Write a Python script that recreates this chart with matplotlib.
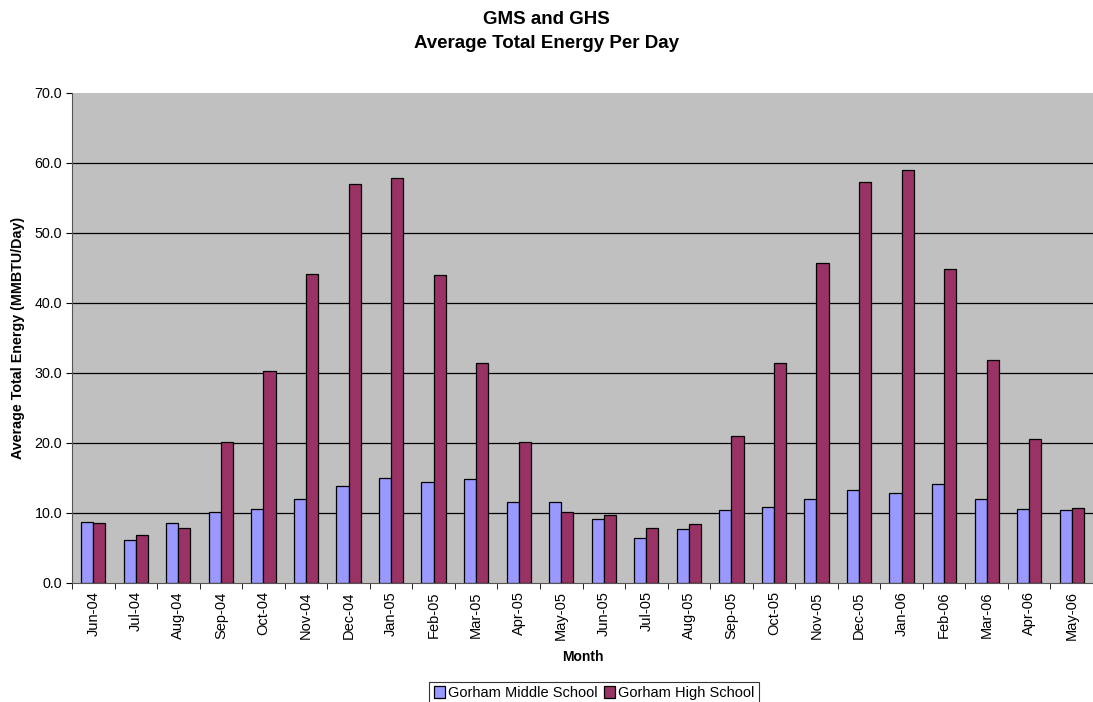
import matplotlib
matplotlib.use("Agg")
import matplotlib.pyplot as plt
import numpy as np

plt.rcParams['font.family'] = ['Liberation Sans', 'DejaVu Sans']

months = ["Jun-04", "Jul-04", "Aug-04", "Sep-04", "Oct-04", "Nov-04", "Dec-04",
          "Jan-05", "Feb-05", "Mar-05", "Apr-05", "May-05", "Jun-05", "Jul-05",
          "Aug-05", "Sep-05", "Oct-05", "Nov-05", "Dec-05", "Jan-06", "Feb-06",
          "Mar-06", "Apr-06", "May-06"]
middle_school = [8.7, 6.2, 8.6, 10.2, 10.6, 12.0, 13.9, 15.0, 14.4, 14.9, 11.6, 11.6,
                 9.1, 6.5, 7.7, 10.4, 10.8, 12.0, 13.3, 12.8, 14.1, 12.0, 10.6, 10.5]
high_school = [8.6, 6.9, 7.8, 20.2, 30.3, 44.2, 57.0, 57.8, 44.0, 31.4, 20.2, 10.2,
               9.7, 7.8, 8.5, 21.0, 31.5, 45.7, 57.3, 59.0, 44.8, 31.9, 20.6, 10.7]
series_names = ["Gorham Middle School", "Gorham High School"]
y_ticks = [0, 10, 20, 30, 40, 50, 60, 70]

fig = plt.figure(figsize=(10.93, 7.02), dpi=100)
ax = fig.add_axes([72 / 1093, 1 - 583 / 702, 1 - 72 / 1093, (583 - 93) / 702])
ax.set_facecolor("#C0C0C0")

x = np.arange(len(months))
w = 0.285
ax.bar(x - w / 2, middle_school, width=w, color="#9999FF", edgecolor="black",
       linewidth=0.9, label=series_names[0], zorder=3)
ax.bar(x + w / 2, high_school, width=w, color="#993366", edgecolor="black",
       linewidth=0.9, label=series_names[1], zorder=3)

ax.set_xlim(-0.5, len(months) - 0.5)
ax.set_ylim(0, 70)
ax.set_yticks(y_ticks)
ax.set_yticklabels([f"{v:.1f}" for v in y_ticks], fontsize=10.3)
for v in y_ticks[1:-1]:
    ax.axhline(v, color="black", linewidth=0.9, zorder=1)

ax.set_xticks(x)
ax.set_xticklabels(months, rotation=90, fontsize=10.5)
ax.tick_params(axis="x", length=0, pad=6)
ax.set_xticks(np.arange(-0.5, len(months), 1), minor=True)
ax.tick_params(axis="x", which="minor", length=4, direction="out", color="black")
ax.tick_params(axis="y", length=4, direction="out", color="black", pad=3)

for side in ["top", "right"]:
    ax.spines[side].set_visible(False)
ax.spines["left"].set_color("#555555")
ax.spines["bottom"].set_color("#555555")

ax.set_xlabel("Month", fontsize=10, fontweight="bold", labelpad=7)
ax.set_ylabel("Average Total Energy (MMBTU/Day)", fontsize=10.3, fontweight="bold", labelpad=7)

fig.text(0.5, 1 - 19 / 702, "GMS and GHS", ha="center", va="center",
         fontsize=13.5, fontweight="bold")
fig.text(0.5, 1 - 43 / 702, "Average Total Energy Per Day", ha="center", va="center",
         fontsize=13.5, fontweight="bold")

leg = fig.legend(loc="center", bbox_to_anchor=(594 / 1093, 1 - 693 / 702), ncol=2,
                 fontsize=10.5, frameon=True, fancybox=False, edgecolor="black",
                 handlelength=0.8, handleheight=0.8, handletextpad=0.2,
                 columnspacing=0.4, borderpad=0.3, borderaxespad=0)
leg.get_frame().set_linewidth(0.8)

fig.savefig("out.png", dpi=100, facecolor="white")
